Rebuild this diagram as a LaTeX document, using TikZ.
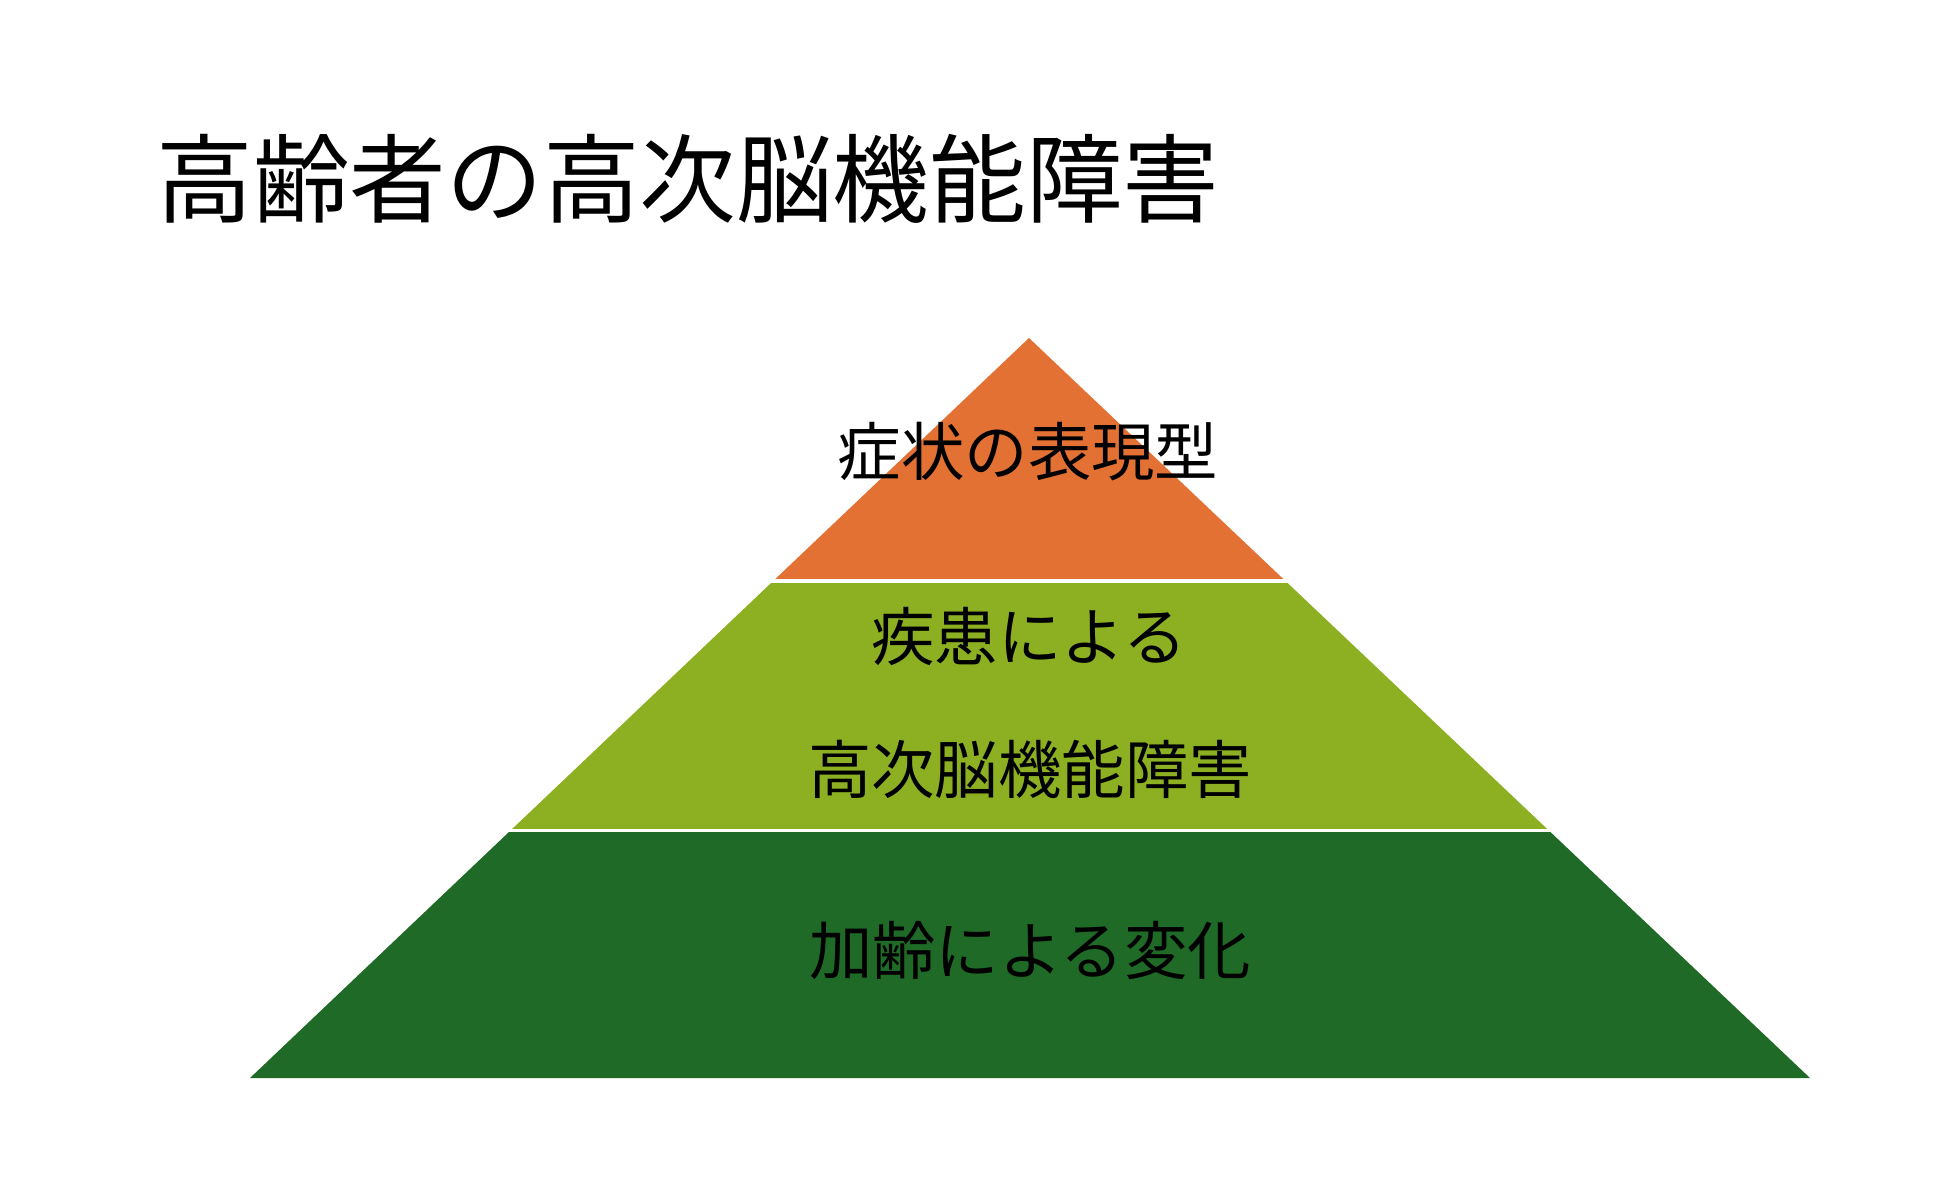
\documentclass[tikz,border=0pt]{standalone}
\usepackage{fontspec}
\usetikzlibrary{calc}
\setmainfont{Noto Sans CJK JP}
\definecolor{cOrange}{RGB}{228,113,52}
\definecolor{cLight}{RGB}{140,176,34}
\definecolor{cDark}{RGB}{30,106,38}
\begin{document}
\begin{tikzpicture}[x=0.5pt,y=-0.5pt,
  band/.style={draw=none},
  sep/.style={draw=white,line width=1.6pt},
  lbl/.style={inner sep=0pt,anchor=center,font=\fontsize{31.7}{36}\selectfont,text=black},
  ttl/.style={inner sep=0pt,anchor=center,font=\fontsize{48.3}{56}\selectfont,text=black}]
\useasboundingbox (0,0) rectangle (1950,1177);
\fill[white] (0,0) rectangle (1950,1177);
% pyramid
\coordinate (apex) at (1029,338);
\coordinate (bl) at (250,1078);
\coordinate (br) at (1810,1078);
\fill[cOrange] (apex) -- ($(apex)!0.3284!(bl)$) -- ($(apex)!0.3284!(br)$) -- cycle;
\fill[cLight] ($(apex)!0.3284!(bl)$) -- ($(apex)!0.6655!(bl)$) -- ($(apex)!0.6655!(br)$) -- ($(apex)!0.3284!(br)$) -- cycle;
\fill[cDark] ($(apex)!0.6655!(bl)$) -- (bl) -- (br) -- ($(apex)!0.6655!(br)$) -- cycle;
\draw[sep] ($(apex)!0.3284!(bl)+(-10,0)$) -- ($(apex)!0.3284!(br)+(10,0)$);
\draw[sep] ($(apex)!0.6655!(bl)+(-10,0)$) -- ($(apex)!0.6655!(br)+(10,0)$);
% texts
\node[ttl] (title) at (688,179) {高齢者の高次脳機能障害};
\node[lbl] (t1) at (1028,452) {症状の表現型};
\node[lbl] (t2) at (1029,636) {疾患による};
\node[lbl] (t3) at (1030,769) {高次脳機能障害};
\node[lbl] (t4) at (1030,950) {加齢による変化};
\end{tikzpicture}
\end{document}
